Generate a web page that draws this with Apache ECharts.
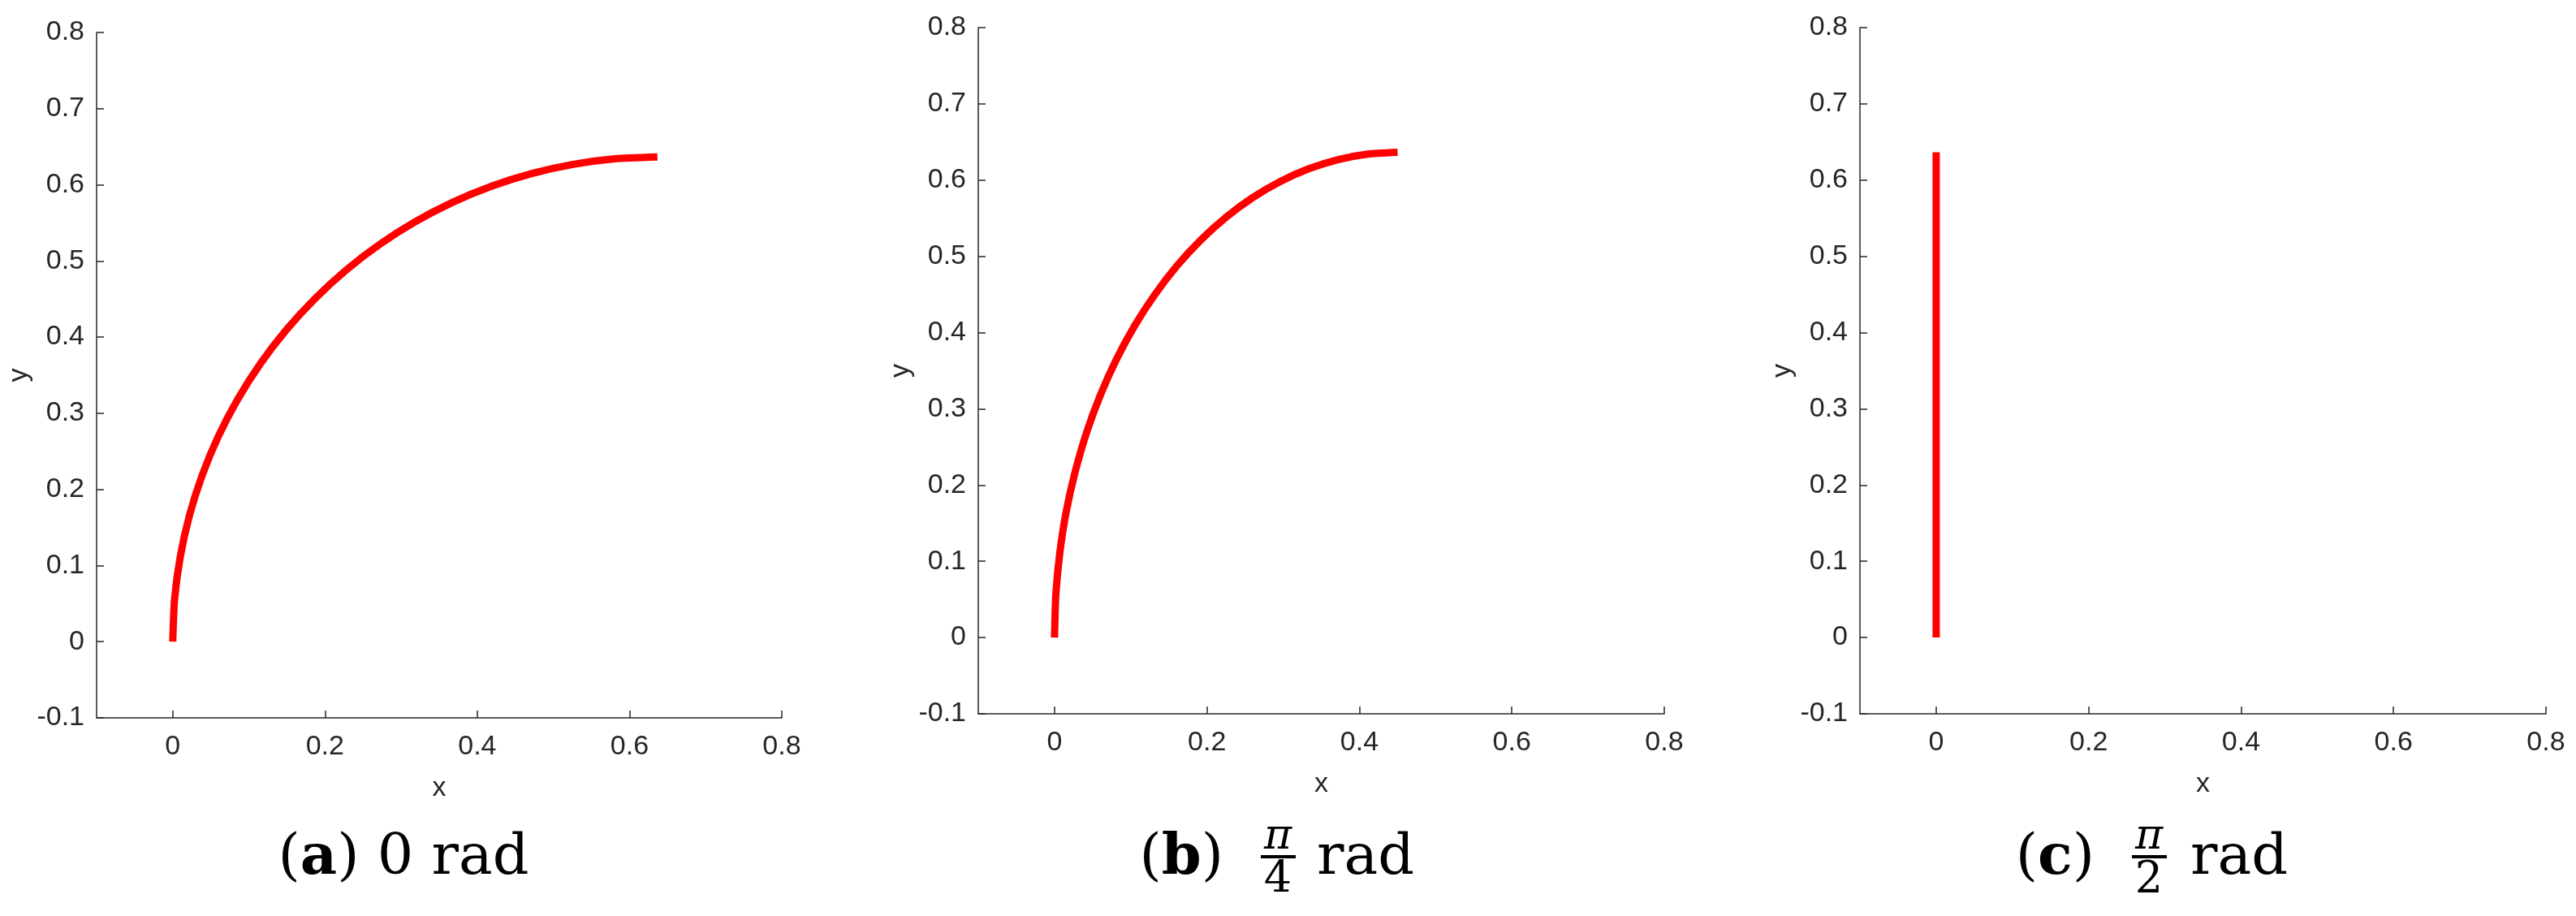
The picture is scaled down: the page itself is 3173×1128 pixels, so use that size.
<!DOCTYPE html>
<html>
<head>
<meta charset="utf-8">
<script src="https://cdn.jsdelivr.net/npm/echarts@6/dist/echarts.min.js"></script>
<style>
html,body{margin:0;padding:0;background:#fff;}
#main{width:3173px;height:1128px;}
</style>
</head>
<body>
<div id="main"></div>
<script>
var xTicks = [0, 0.2, 0.4, 0.6, 0.8];
var yTicks = [-0.1, 0, 0.1, 0.2, 0.3, 0.4, 0.5, 0.6, 0.7, 0.8];

// (a) 0 rad
var curveAX = [0, 0.0024, 0.0097, 0.0217, 0.0384, 0.0596, 0.0853, 0.1151, 0.1489, 0.1865,
    0.2274, 0.2715, 0.3183, 0.3676, 0.4189, 0.4718, 0.5261, 0.5811, 0.6366];
var curveAY = [0, 0.0555, 0.1105, 0.1648, 0.2177, 0.2690, 0.3183, 0.3651, 0.4092, 0.4501,
    0.4877, 0.5215, 0.5513, 0.5770, 0.5982, 0.6149, 0.6269, 0.6342, 0.6366];
// (b) pi/4 rad
var curveBX = [0, 0.0017, 0.0069, 0.0153, 0.0272, 0.0421, 0.0603, 0.0814, 0.1053, 0.1319,
    0.1608, 0.1920, 0.2251, 0.2599, 0.2962, 0.3336, 0.3720, 0.4109, 0.4501];
var curveBY = [0, 0.0555, 0.1105, 0.1648, 0.2177, 0.2690, 0.3183, 0.3651, 0.4092, 0.4501,
    0.4877, 0.5215, 0.5513, 0.5770, 0.5982, 0.6149, 0.6269, 0.6342, 0.6366];
// (c) pi/2 rad
var curveCX = [0, 0, 0];
var curveCY = [0, 0.3183, 0.6366];

var panelLetters = ['a', 'b', 'c'];
var fracDenoms = ['4', '2'];

var axisColor = '#262626';
var chart = echarts.init(document.getElementById('main'));

function zip(xs, ys){
    var out = [];
    for(var i = 0; i < xs.length; i++) out.push([xs[i], ys[i]]);
    return out;
}

var grids = [
    {left: 119, top: 40, width: 844, height: 844},
    {left: 1205, top: 34, width: 845, height: 845},
    {left: 2291, top: 34, width: 845, height: 845}
];

function makeAxis(isX, idx){
    return {
        type: 'value',
        gridIndex: idx,
        min: -0.1,
        max: 0.8,
        name: isX ? 'x' : 'y',
        nameLocation: 'middle',
        nameGap: isX ? 70 : 78,
        nameTextStyle: {color: axisColor, fontSize: 34, fontFamily: 'Liberation Sans'},
        axisLine: {show: true, onZero: false, lineStyle: {color: axisColor, width: 1.5}},
        axisTick: {show: true, inside: true, length: 9, customValues: isX ? xTicks : yTicks,
            lineStyle: {color: axisColor, width: 1.5}},
        axisLabel: {show: true, customValues: isX ? xTicks : yTicks, margin: isX ? 19 : 15,
            color: axisColor, fontSize: 34, fontFamily: 'Liberation Sans',
            formatter: function(v){ return String(v); }},
        splitLine: {show: false}
    };
}

var xAxes = [], yAxes = [];
for(var i = 0; i < 3; i++){
    xAxes.push(makeAxis(true, i));
    yAxes.push(makeAxis(false, i));
}

var curves = [zip(curveAX, curveAY), zip(curveBX, curveBY), zip(curveCX, curveCY)];
var series = [];
for(var k = 0; k < 3; k++){
    series.push({
        type: 'line',
        xAxisIndex: k,
        yAxisIndex: k,
        data: curves[k],
        showSymbol: false,
        smooth: 0.2,
        silent: true,
        lineStyle: {color: '#ff0000', width: 9, cap: 'butt'}
    });
}

// captions under each panel
var capFont = 'DejaVu Serif';
var capRich = {
    n: {fontSize: 70, fontFamily: capFont, color: '#000'},
    b: {fontSize: 70, fontFamily: capFont, fontWeight: 'bold', color: '#000'}
};
var graphics = [{
    type: 'text', x: 497, y: 1058,
    style: {text: '{n|(}{b|' + panelLetters[0] + '}{n|) 0 rad}', rich: capRich,
        align: 'center', verticalAlign: 'middle'}
}];
var fracPos = [
    {paren: 1507, bar: 1553, rad: 1622},
    {paren: 2580, bar: 2626, rad: 2698}
];
for(var j = 0; j < 2; j++){
    var p = fracPos[j];
    graphics.push({
        type: 'text', x: p.paren, y: 1058,
        style: {text: '{n|(}{b|' + panelLetters[j + 1] + '}{n|)}', rich: capRich,
            align: 'right', verticalAlign: 'middle'}
    });
    graphics.push({
        type: 'text', x: p.bar + 21, y: 1031,
        style: {text: 'π', fontSize: 52, fontStyle: 'italic', fontFamily: capFont, fill: '#000',
            align: 'center', verticalAlign: 'middle'}
    });
    graphics.push({
        type: 'rect', shape: {x: p.bar, y: 1053, width: 43, height: 4},
        style: {fill: '#000'}
    });
    graphics.push({
        type: 'text', x: p.bar + 21, y: 1085,
        style: {text: fracDenoms[j], fontSize: 54, fontFamily: capFont, fill: '#000',
            align: 'center', verticalAlign: 'middle'}
    });
    graphics.push({
        type: 'text', x: p.rad, y: 1058,
        style: {text: 'rad', fontSize: 70, fontFamily: capFont, fill: '#000',
            align: 'left', verticalAlign: 'middle'}
    });
}

chart.setOption({
    backgroundColor: '#fff',
    animation: false,
    grid: grids,
    xAxis: xAxes,
    yAxis: yAxes,
    series: series,
    graphic: graphics
});
</script>
</body>
</html>
